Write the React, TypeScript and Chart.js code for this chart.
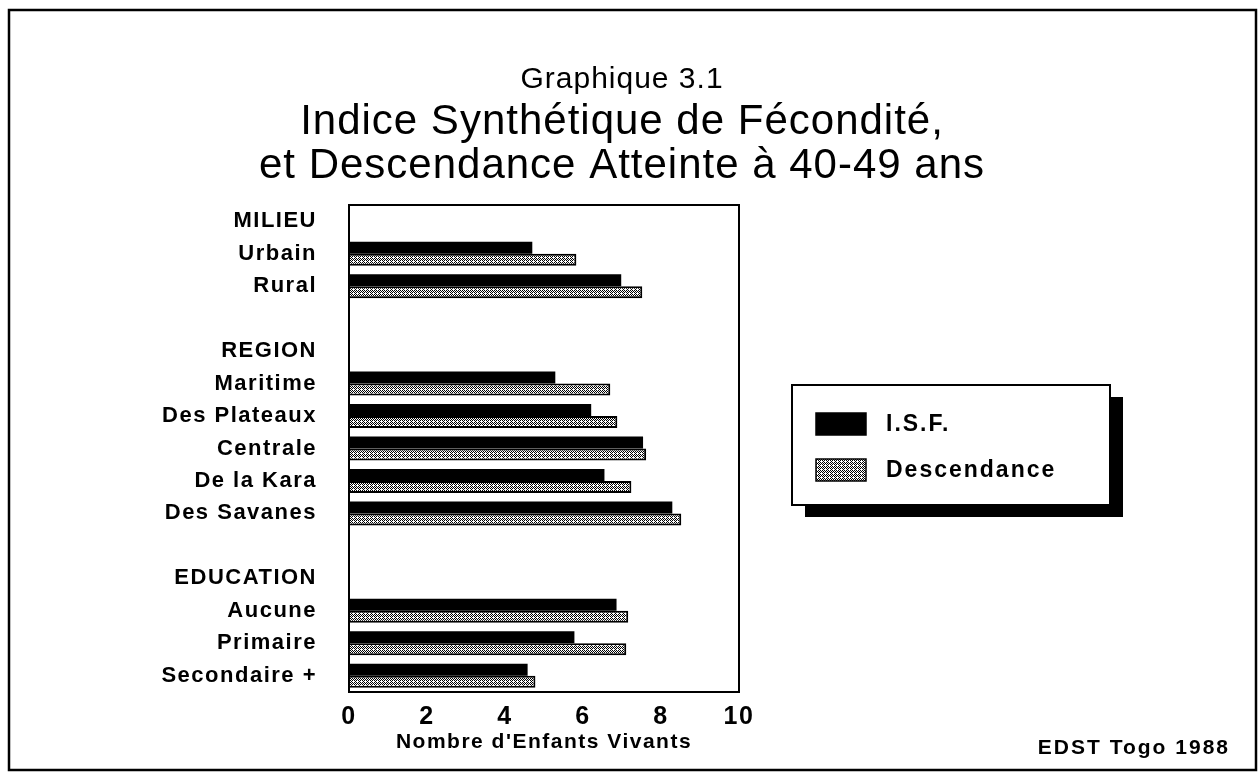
import React, { useEffect, useRef } from 'react';
import { Chart, registerables } from 'chart.js';

Chart.register(...registerables);

const categories = [
  'MILIEU', 'Urbain', 'Rural', '',
  'REGION', 'Maritime', 'Des Plateaux', 'Centrale', 'De la Kara', 'Des Savanes', ' ',
  'EDUCATION', 'Aucune', 'Primaire', 'Secondaire +',
];
const isfValues = [null, 4.7, 6.98, null, null, 5.29, 6.21, 7.54, 6.55, 8.29, null, null, 6.86, 5.78, 4.58];
const descValues = [null, 5.83, 7.52, null, null, 6.7, 6.88, 7.62, 7.24, 8.52, null, null, 7.16, 7.11, 4.78];
const seriesNames = ['I.S.F.', 'Descendance'];
const xTickValues = [0, 2, 4, 6, 8, 10];
const titleLines = ['Graphique 3.1', 'Indice Synthétique de Fécondité,', 'et Descendance Atteinte à 40-49 ans'];
const xAxisTitle = "Nombre d'Enfants Vivants";
const sourceText = 'EDST Togo 1988';

const FONT = '"Liberation Sans", Arial, sans-serif';

function makePattern(): CanvasPattern | string {
  const c = document.createElement('canvas');
  c.width = 4;
  c.height = 4;
  const g = c.getContext('2d');
  if (!g) return '#777';
  g.fillStyle = '#fff';
  g.fillRect(0, 0, 4, 4);
  g.fillStyle = '#000';
  const dots = [[0, 0], [2, 0], [1, 1], [3, 1], [0, 2], [2, 2], [3, 3], [1, 3]];
  dots.forEach(([x, y]) => g.fillRect(x, y, 1, 1));
  g.fillStyle = '#fff';
  g.fillRect(1, 1, 1, 1);
  const p = g.createPattern(c, 'repeat');
  return p || '#777';
}

export default function App() {
  const ref = useRef<HTMLCanvasElement | null>(null);

  useEffect(() => {
    document.body.style.margin = '0';
    const canvas = ref.current;
    if (!canvas) return;
    const pattern = makePattern();

    const decor = {
      id: 'decor',
      beforeDraw(chart: any) {
        chart.ctx.letterSpacing = '1.5px';
      },
      afterDraw(chart: any) {
        const ctx = chart.ctx as CanvasRenderingContext2D;
        const ca = chart.chartArea;
        ctx.save();
        // outer frame
        ctx.strokeStyle = '#000';
        ctx.lineWidth = 2.5;
        ctx.strokeRect(9, 10, 1247, 760);
        // plot box
        ctx.lineWidth = 2;
        ctx.strokeRect(ca.left, ca.top, ca.right - ca.left, ca.bottom - ca.top);
        // titles
        ctx.fillStyle = '#000';
        ctx.textAlign = 'center';
        ctx.textBaseline = 'middle';
        (ctx as any).letterSpacing = '1px';
        ctx.font = `30px ${FONT}`;
        ctx.fillText(titleLines[0], 622, 80);
        ctx.font = `42px ${FONT}`;
        ctx.fillText(titleLines[1], 622, 122);
        ctx.fillText(titleLines[2], 622, 166);
        // legend
        const lx = 792, ly = 385, lw = 318, lh = 120;
        ctx.fillStyle = '#000';
        ctx.fillRect(lx + 13, ly + 12, lw, lh);
        ctx.fillStyle = '#fff';
        ctx.fillRect(lx, ly, lw, lh);
        ctx.lineWidth = 2;
        ctx.strokeRect(lx, ly, lw, lh);
        const ds = chart.data.datasets;
        const rows = [424, 470];
        ds.forEach((d: any, i: number) => {
          const y = rows[i];
          ctx.fillStyle = d.backgroundColor;
          ctx.fillRect(816, y - 11, 50, 22);
          ctx.lineWidth = 1.5;
          ctx.strokeStyle = '#000';
          ctx.strokeRect(816, y - 11, 50, 22);
          ctx.fillStyle = '#000';
          ctx.textAlign = 'left';
          ctx.textBaseline = 'middle';
          (ctx as any).letterSpacing = '2px';
          ctx.font = `bold 23px ${FONT}`;
          ctx.fillText(d.label, 886, y + 1);
        });
        // source
        ctx.textAlign = 'right';
        (ctx as any).letterSpacing = '2px';
        ctx.font = `bold 21px ${FONT}`;
        ctx.fillText(sourceText, 1230, 748);
        ctx.restore();
        (ctx as any).letterSpacing = '0px';
      },
    };

    const chart = new Chart(canvas, {
      type: 'bar',
      data: {
        labels: categories,
        datasets: [
          {
            label: seriesNames[0],
            data: isfValues,
            backgroundColor: '#000',
            borderColor: '#000',
            borderWidth: 0,
            categoryPercentage: 0.74,
            barPercentage: 1.0,
          },
          {
            label: seriesNames[1],
            data: descValues,
            backgroundColor: pattern as any,
            borderColor: '#000',
            borderWidth: 2,
            categoryPercentage: 0.74,
            barPercentage: 1.0,
          },
        ],
      },
      options: {
        indexAxis: 'y',
        animation: false,
        responsive: true,
        maintainAspectRatio: false,
        layout: { padding: { left: 0, right: 519, top: 205, bottom: 15 } },
        plugins: {
          legend: { display: false },
          title: { display: false },
          tooltip: { enabled: false },
        },
        scales: {
          x: {
            type: 'linear',
            position: 'bottom',
            min: 0,
            max: 10,
            afterFit: (s: any) => { s.height = 67; },
            afterBuildTicks: (s: any) => { s.ticks = xTickValues.map((v) => ({ value: v })); },
            grid: { display: false, drawTicks: false },
            border: { display: false },
            ticks: {
              color: '#000',
              padding: 10,
              font: { family: FONT, size: 25, weight: 'bold' },
              maxRotation: 0,
            },
            title: {
              display: true,
              text: xAxisTitle,
              color: '#000',
              font: { family: FONT, size: 21, weight: 'bold' },
              padding: { top: 0, bottom: 4 },
            },
          },
          y: {
            type: 'category',
            position: 'left',
            afterFit: (s: any) => { s.width = 349; },
            grid: { display: false, drawTicks: false },
            border: { display: false },
            ticks: {
              color: '#000',
              padding: 32,
              autoSkip: false,
              font: { family: FONT, size: 22, weight: 'bold' },
              callback: (_v: any, i: number) => categories[i],
            },
          },
        },
      },
      plugins: [decor],
    });
    return () => chart.destroy();
  }, []);

  return (
    <div style={{ position: 'fixed', left: 0, top: 0, width: 1258, height: 774, background: '#fff' }}>
      <canvas ref={ref} />
    </div>
  );
}
